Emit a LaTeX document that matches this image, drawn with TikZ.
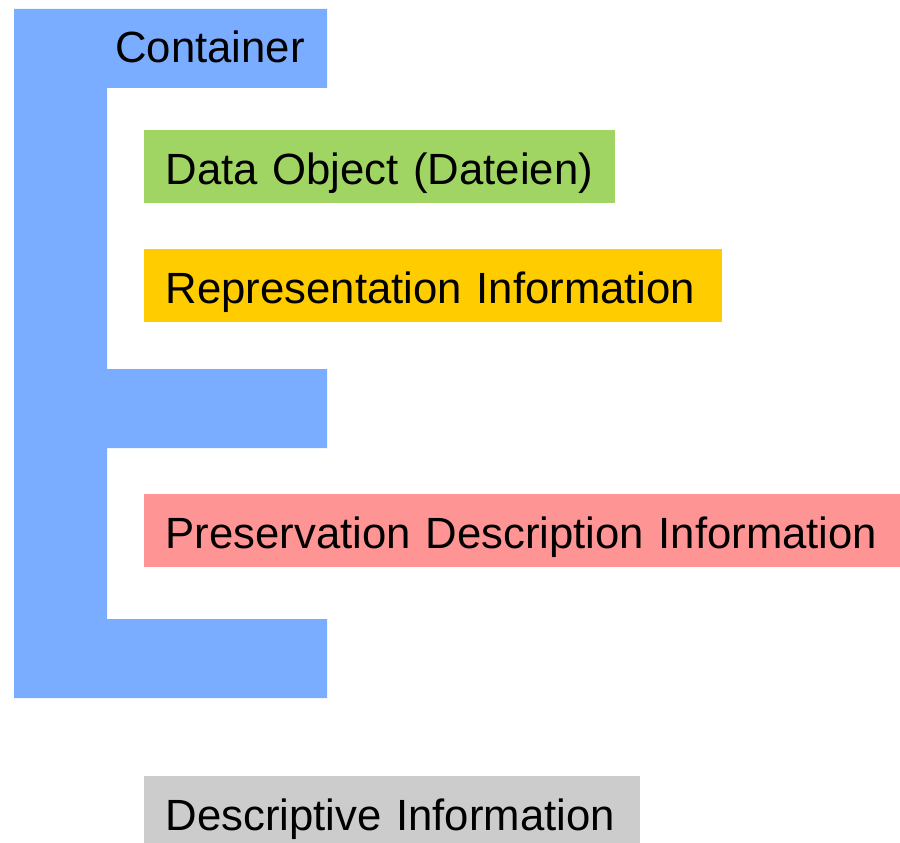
\documentclass[tikz,border=0pt]{standalone}
\usepackage{fontspec}
\setmainfont{Liberation Sans}
\definecolor{contblue}{RGB}{122,173,255}
\definecolor{dogreen}{RGB}{161,213,99}
\definecolor{riyellow}{RGB}{255,204,0}
\definecolor{pdired}{RGB}{255,148,148}
\definecolor{digray}{RGB}{204,204,204}

\begin{document}
\begin{tikzpicture}[x=1pt,y=-1pt,
	box/.style={anchor=north west,inner xsep=21.5pt,inner ysep=0pt,align=left,
		text height=54pt,text depth=19pt,font=\fontsize{43.7}{44}\selectfont}]
	\useasboundingbox (0,0) rectangle (900,843);
	% container frame
	\fill[contblue] (14,9) -- (327,9) -- (327,88) -- (107,88) -- (107,369) -- (327,369)
		-- (327,448) -- (107,448) -- (107,619) -- (327,619) -- (327,698) -- (14,698) -- cycle;
	\node[anchor=base west,inner sep=0pt,font=\fontsize{43.7}{44}\selectfont] (cont) at (115,63) {Container};
	% contents
	\node[box,fill=dogreen,text width=428pt] (do) at (144,130) {\mbox{Data Object (Dateien)}};
	\node[box,fill=riyellow,text width=535pt] (ri) at (144,249) {\mbox{Representation Information}};
	\node[box,fill=pdired,text width=713pt] (pdi) at (144,494) {\mbox{Preservation Description Information}};
	\node[box,fill=digray,text width=453pt] (di) at (144,776) {\mbox{Descriptive Information}};
\end{tikzpicture}
\end{document}
